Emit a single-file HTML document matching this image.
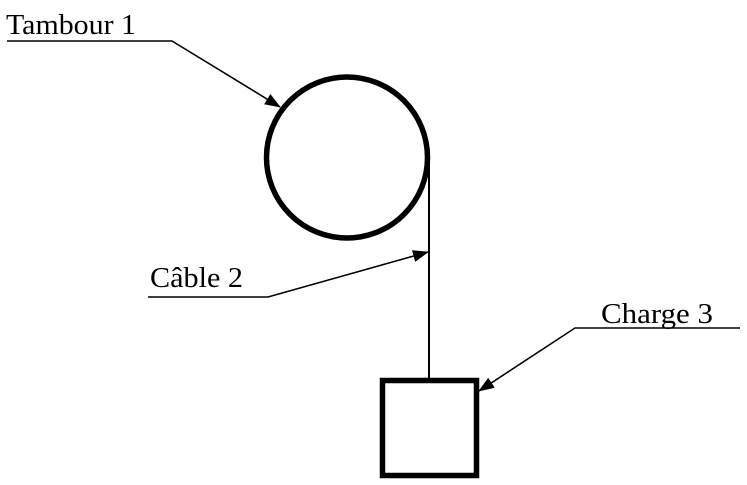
<!DOCTYPE html>
<html><head><style>html,body{margin:0;padding:0;background:#fff}svg{display:block}</style></head>
<body>
<svg width="747" height="485" viewBox="0 0 747 485" xmlns="http://www.w3.org/2000/svg" font-family="Liberation Serif, serif" font-size="29">
<defs>
<marker id="a" markerWidth="16" markerHeight="12" refX="15" refY="6" orient="auto" markerUnits="userSpaceOnUse">
<path d="M0,0 L16,6 L0,12 z" fill="#000"/>
</marker>
</defs>
<circle cx="347" cy="157.5" r="80.5" fill="none" stroke="#000" stroke-width="5.5"/>
<line x1="429" y1="158" x2="429" y2="380" stroke="#000" stroke-width="2"/>
<rect x="382.5" y="380.5" width="94" height="95" fill="none" stroke="#000" stroke-width="5.5"/>
<polyline points="7,41 172,41 280,107" fill="none" stroke="#000" stroke-width="1.6" marker-end="url(#a)"/>
<polyline points="148,297 268,297 428,252" fill="none" stroke="#000" stroke-width="1.6" marker-end="url(#a)"/>
<polyline points="740,328 575,328 479,391" fill="none" stroke="#000" stroke-width="1.6" marker-end="url(#a)"/>
<text x="6" y="34" textLength="130" lengthAdjust="spacingAndGlyphs">Tambour 1</text>
<text x="150" y="287" textLength="93" lengthAdjust="spacingAndGlyphs">Câble 2</text>
<text x="601" y="323" textLength="112" lengthAdjust="spacingAndGlyphs">Charge 3</text>
</svg>
</body></html>
